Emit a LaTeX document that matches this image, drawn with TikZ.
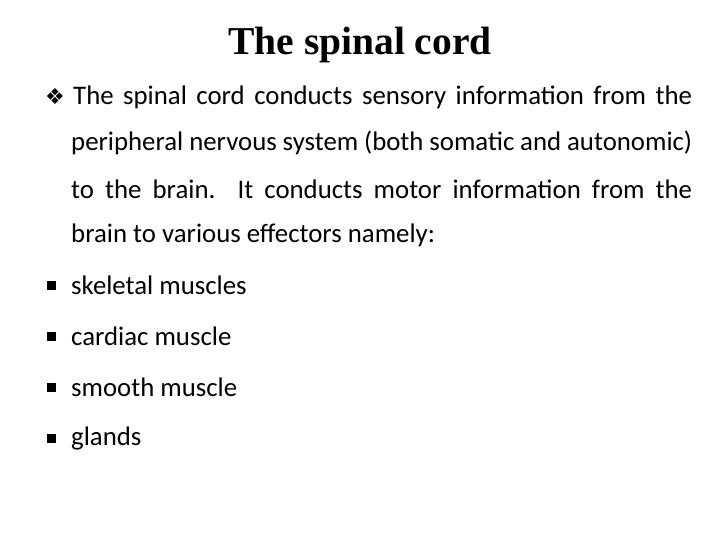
\documentclass[tikz,border=0pt]{standalone}
\usepackage{fontspec}
\setmainfont{Carlito}
\newfontfamily\titlefont{Liberation Serif}
\newfontfamily\symfont{DejaVu Sans}
\begin{document}
\begin{tikzpicture}[x=1pt,y=1pt,
  txt/.style={anchor=west,inner sep=0pt,font=\fontsize{26.8}{30}\selectfont},
  sq/.style={fill=black,inner sep=0pt,minimum size=9pt},
  bul/.style={anchor=west,inner sep=0pt,font=\symfont\fontsize{22}{24}\selectfont}]
\useasboundingbox (0,0) rectangle (720,-540);
\node[anchor=center,inner sep=0pt,font=\titlefont\bfseries\fontsize{39.5}{44}\selectfont] (title) at (360,-45) {The spinal cord};
\node[bul] (b0) at (45,-97) {❖};
\node[txt] (l1) at (73,-97) {\makebox[619pt][s]{The spinal cord conducts sensory information from the}};
\node[txt] (l2) at (71,-143) {\makebox[621pt][s]{peripheral nervous system (both somatic and autonomic)}};
\node[txt] (l3) at (71,-189) {\makebox[621pt][s]{to the brain.\ \ It conducts motor information from the}};
\node[txt] (l4) at (71,-235) {brain to various effectors namely:};
\node[sq] (b1) at (51,-285) {};
\node[txt] (t1) at (71,-285) {skeletal muscles};
\node[sq] (b2) at (51,-336) {};
\node[txt] (t2) at (71,-336) {cardiac muscle};
\node[sq] (b3) at (51,-387) {};
\node[txt] (t3) at (71,-387) {smooth muscle};
\node[sq] (b4) at (51,-438) {};
\node[txt] (t4) at (71,-438) {glands};
\end{tikzpicture}
\end{document}
